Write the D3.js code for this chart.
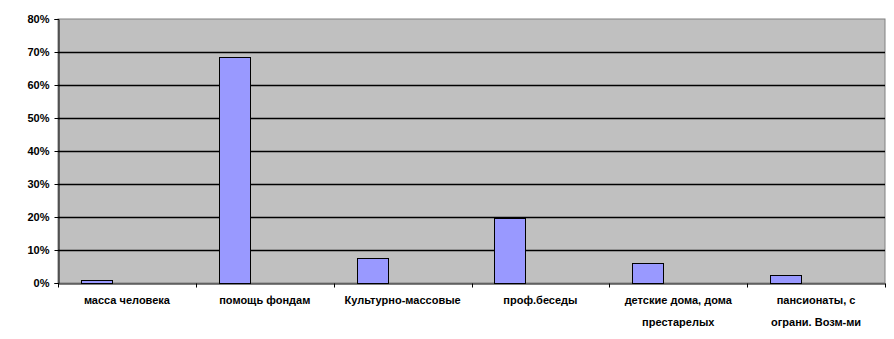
<!DOCTYPE html>
<html><head><meta charset="utf-8">
<script src="https://cdn.jsdelivr.net/npm/d3@7"></script>
<style>body{margin:0;background:#fff}svg{display:block}text{font-family:"Liberation Sans",Arial,sans-serif;font-weight:bold;font-size:11px;fill:#000}</style>
</head><body>
<script>
const categories = ["масса человека", "помощь фондам", "Культурно-массовые", "проф.беседы", "детские дома, дома престарелых", "пансионаты, с ограни. Возм-ми"];
const labelLines = [["масса человека"], ["помощь фондам"], ["Культурно-массовые"], ["проф.беседы"], ["детские дома, дома", "престарелых"], ["пансионаты, с", "ограни. Возм-ми"]];
const values = [0.008, 0.685, 0.076, 0.197, 0.061, 0.024];
const yTicks = [0, 0.1, 0.2, 0.3, 0.4, 0.5, 0.6, 0.7, 0.8];
const slots = ["s1", "s2", "s3"];

const W = 894, H = 339;
const m = {left: 58, right: 9, top: 19, bottom: 56};
const svg = d3.select("body").append("svg").attr("width", W).attr("height", H);
const iw = W - m.left - m.right, ih = H - m.top - m.bottom;
const g = svg.append("g").attr("transform", `translate(${m.left},${m.top})`);

const x = d3.scaleBand().domain(categories).range([0, iw]).padding(0);
const xs = d3.scaleBand().domain(slots).range([0, x.bandwidth()]).paddingInner(0).paddingOuter(0.75);
const y = d3.scaleLinear().domain([0, 0.8]).range([ih, 0]);

g.append("rect").attr("width", iw).attr("height", ih).attr("fill", "#c0c0c0").attr("stroke", "#808080").attr("stroke-width", 1);

g.selectAll(".grid").data(yTicks.filter(t => t > 0 && t < 0.8)).enter().append("line")
  .attr("x1", 0).attr("x2", iw).attr("y1", d => Math.round(y(d)) + 0.5).attr("y2", d => Math.round(y(d)) + 0.5)
  .attr("stroke", "#000").attr("stroke-width", 1.3);

g.selectAll(".bar").data(values).enter().append("rect")
  .attr("x", (d, i) => Math.round(x(categories[i]) + xs("s1")) + 0.5)
  .attr("y", d => Math.round(y(d)) + 0.5)
  .attr("width", Math.round(xs.bandwidth()))
  .attr("height", d => Math.round(y(0)) - Math.round(y(d)))
  .attr("fill", "#9999ff").attr("stroke", "#000").attr("stroke-width", 1);

const ya = d3.axisLeft(y).tickValues(yTicks).tickFormat(d3.format(".0%")).tickSize(4).tickPadding(5);
const yg = g.append("g").attr("transform", "translate(0.5,0)").call(ya);
yg.select(".domain").attr("stroke", "#000");
yg.selectAll(".tick line").attr("stroke", "#000");
yg.selectAll("text").attr("font-size", 11).attr("font-family", null);

const xa = d3.axisBottom(x).tickValues([]).tickSizeOuter(0);
const xg = g.append("g").attr("transform", `translate(0,${ih + 0.5})`).call(xa);
xg.select(".domain").attr("stroke", "#000");
const bounds = categories.map(c => x(c)).concat([iw]);
xg.selectAll(".tk").data(bounds).enter().append("line")
  .attr("x1", d => Math.round(d) + 0.5).attr("x2", d => Math.round(d) + 0.5).attr("y1", 0).attr("y2", 4).attr("stroke", "#000");

const lbl = g.append("g").attr("transform", `translate(0,${ih})`);
labelLines.forEach((lines, i) => {
  const t = lbl.append("text").attr("text-anchor", "middle").attr("x", x(categories[i]) + x.bandwidth() / 2);
  lines.forEach((ln, j) => t.append("tspan").attr("x", x(categories[i]) + x.bandwidth() / 2).attr("y", 21 + j * 22).text(ln));
});
</script>
</body></html>
